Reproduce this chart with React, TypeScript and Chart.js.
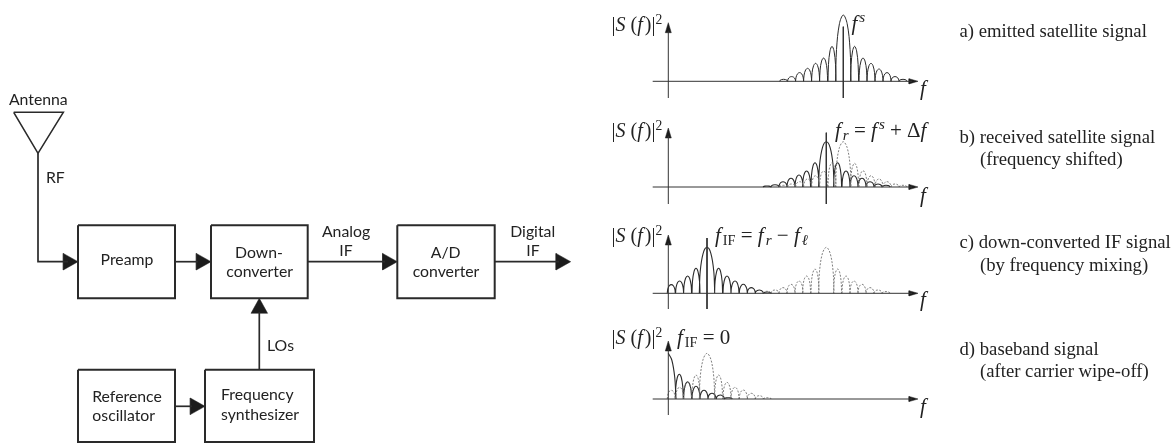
import React, { useEffect, useRef } from "react";
import { Chart, registerables } from "chart.js";
Chart.register(...registerables);

// ---- spectrum data: lobe centre frequency (from the power axis) and lobe power ----
const aSideF = [115.3, 123.3, 131.3, 139.3, 147.3, 155.3, 163.7, 186.3, 194.7, 202.7, 210.7, 218.7, 226.7, 234.7];
const aSideP = [2, 4.7, 8.7, 13, 18, 23.3, 35, 35, 23.3, 18, 12.3, 8.7, 4.7, 2];
const aMain = [175, 66.3];

const bSolidF = [98.7, 106.7, 114.7, 122.7, 130.7, 138.3, 146.7, 169.3, 177.7, 185.7, 193.7, 201.7, 209.7, 217.7];
const bSolidP = [1, 2.3, 5.3, 8.7, 12, 16, 24.3, 24.3, 16, 11.3, 8.7, 5.3, 3, 1.7];
const bSolidMain = [158, 45.3];
const bDashF = [115.3, 123.3, 131.3, 139.3, 147.3, 155.3, 163.7, 186.3, 194.7, 202.7, 210.7, 218.7, 226.7, 234.7];
const bDashP = [1.7, 3, 5.3, 8, 11.3, 16, 24.3, 23.7, 16.3, 11.3, 8, 5.3, 3, 1.7];
const bDashMain = [175, 45.3];

const cSolidF = [3, 11.3, 19.3, 27.7, 50.3, 58.7, 66.7, 75, 83, 91, 99];
const cSolidP = [8.7, 12.3, 17.3, 25, 25, 17.3, 12.3, 9, 5.7, 3.3, 1.3];
const cSolidMain = [38.7, 46];
const cDashF = [98.7, 106.7, 114.7, 122.7, 130.7, 138.3, 146.7, 169.3, 177.7, 185.7, 193.7, 201.7, 209.7, 217.7];
const cDashP = [2, 3.3, 5.7, 9, 12.3, 17.3, 24.3, 24.3, 17.3, 12.3, 9, 5.7, 3.3, 1.7];
const cDashMain = [158, 46];

const dSolidF = [11, 19.3, 27.7, 35.7, 43.7, 52, 60];
const dSolidP = [24.7, 17.3, 12.7, 8.7, 5.7, 4, 1.3];
const dSolidHalfMain = [0, 45.7];
const dDashF = [3, 11.3, 19.3, 27.7, 50.3, 58.7, 66.7, 75, 83, 91, 99];
const dDashP = [8.7, 11.7, 16.7, 24, 24, 16.7, 11.7, 9, 5.7, 3.3, 1.3];
const dDashMain = [38.7, 45.7];

// ---- text ----
const blockLabels = ["Antenna", "RF", "Preamp", "Down-", "converter", "Analog", "IF", "A/D", "converter", "Digital", "IF", "LOs", "Reference", "oscillator", "Frequency", "synthesizer"];
const captions = ["a) emitted satellite signal", "b) received satellite signal", "(frequency shifted)", "c) down-converted IF signal", "(by frequency mixing)", "d) baseband signal", "(after carrier wipe-off)"];

// ---- layout (in the 1:1 scale units of the picture) ----
const blockLabelPos = [[38.3, 104.7], [55.3, 183.3], [127, 265], [259, 258.3], [259.7, 276.7], [346, 237.3], [346, 255.7], [445.7, 258.3], [446, 277.3], [532.7, 237.3], [533, 255.7], [280.5, 351], [127, 402], [123.7, 421.3], [257.3, 400.3], [260, 419.7]];
const captionPos = [[959.5, 36.5], [959.5, 142.5], [980, 165], [959.5, 248], [980, 271], [959.5, 354.5], [980, 377]];
const AXIS_X = 668.3;
const panels = [
  { base: 81.3, top: 22.7, bottom: 98, eqY: 30.5, fY: 95 },
  { base: 187, top: 128, bottom: 204, eqY: 136.5, fY: 201.5 },
  { base: 293.3, top: 235, bottom: 309, eqY: 241.5, fY: 306 },
  { base: 399, top: 341, bottom: 415, eqY: 344, fY: 413 },
];
const markers = [[843.3, 26.7, 98], [826.3, 132.7, 204], [707, 238, 309]];
const boxes = [[78, 225.3, 175, 298.3], [211, 225.3, 307.7, 298.3], [397.3, 225.3, 494.7, 298.3], [78, 369.7, 175, 442], [205, 369.7, 314, 442]];
const wires = [
  [[38, 153.3], [38, 261.7], [68, 261.7]],
  [[175, 261.7], [198, 261.7]],
  [[307.7, 261.7], [385, 261.7]],
  [[494.7, 261.7], [559, 261.7]],
  [[259.3, 369.7], [259.3, 312]],
  [[175, 406.3], [192, 406.3]],
];
const antenna = [[13.7, 112.3], [63.3, 112.3], [38, 153.3], [13.7, 112.3]];
// arrow: tip x, tip y, dir
const blockArrows = [[78, 261.7, "r"], [211, 261.7, "r"], [397.3, 261.7, "r"], [570.7, 261.7, "r"], [205, 406.3, "r"], [259.3, 298.3, "u"]];

type Pt = { x: number; y: number } | { x: number; y: null };
const INK = "#2a2a2a";
const DASH = "#6f6f6f";

function arch(cx: number, hw: number, h: number, base: number): Pt[] {
  return [
    { x: cx - hw, y: base },
    { x: cx - hw * 0.88, y: base - h * 0.48 },
    { x: cx - hw * 0.5, y: base - h * 0.87 },
    { x: cx, y: base - h },
    { x: cx + hw * 0.5, y: base - h * 0.87 },
    { x: cx + hw * 0.88, y: base - h * 0.48 },
    { x: cx + hw, y: base },
    { x: cx + hw, y: null },
  ];
}
function trace(f: number[], p: number[], main: number[] | null, base: number): Pt[] {
  const pts: Pt[] = [];
  f.forEach((v, i) => pts.push(...arch(AXIS_X + v, 4, p[i], base)));
  if (main) pts.push(...arch(AXIS_X + main[0], 7.7, main[1], base));
  return pts;
}
function line(data: any[], width = 1, color = INK, extra: any = {}) {
  return { type: "scatter", data, showLine: true, pointRadius: 0, borderWidth: width, borderColor: color, backgroundColor: color, clip: false, fill: false, tension: 0, ...extra };
}
function arrow(x: number, y: number, dir: string, len: number, hw: number) {
  return dir === "r"
    ? [{ x, y }, { x: x - len, y: y - hw }, { x: x - len, y: y + hw }, { x, y }]
    : [{ x, y }, { x: x - hw, y: y + len }, { x: x + hw, y: y + len }, { x, y }];
}
const xy = (a: number[][]) => a.map(([x, y]) => ({ x, y }));

type Seg = [string, string?];
// styles: i italic, sup, sub, isup, isub
const psd: Seg[] = [["|"], ["S", "i"], [" ("], ["f", "i"], [")|"], ["2", "sup"]];
const mathLabels: { x: number; y: number; size?: number; segs: Seg[] }[] = [
  { x: 851.5, y: 30, size: 21, segs: [["f", "i"], ["s", "isup"]] },
  { x: 835, y: 136.5, size: 21, segs: [["f", "i"], ["r", "isub"], [" = "], ["f", "i"], ["s", "isup"], [" + Δ"], ["f", "i"]] },
  { x: 715, y: 241.5, size: 21, segs: [["f", "i"], ["IF", "sub"], [" = "], ["f", "i"], ["r", "isub"], [" − "], ["f", "i"], ["ℓ", "isub"]] },
  { x: 677, y: 344, size: 21, segs: [["f", "i"], ["IF", "sub"], [" = 0"]] },
];

const textPlugin = {
  id: "diagramText",
  afterDatasetsDraw(chart: any) {
    const { ctx, scales } = chart;
    const X = (v: number) => scales.x.getPixelForValue(v);
    const Y = (v: number) => scales.y.getPixelForValue(v);
    ctx.save();
    ctx.fillStyle = "#222";
    ctx.textBaseline = "alphabetic";
    ctx.textAlign = "center";
    ctx.font = "15.8px Lato";
    blockLabels.forEach((t, i) => ctx.fillText(t, X(blockLabelPos[i][0]), Y(blockLabelPos[i][1])));
    ctx.textAlign = "left";
    ctx.font = "18.7px 'Liberation Serif'";
    captions.forEach((t, i) => ctx.fillText(t, X(captionPos[i][0]), Y(captionPos[i][1])));

    const drawSegs = (x0: number, y0: number, segs: Seg[], size = 20) => {
      let x = X(x0);
      const y = Y(y0);
      segs.forEach(([t, s]) => {
        let font = `${size}px 'Liberation Serif'`;
        let dy = 0;
        if (s === "i") font = `italic ${size}px 'Liberation Serif'`;
        if (s === "sup") { font = `${size * 0.68}px 'Liberation Serif'`; dy = -7; }
        if (s === "isup") { font = `italic ${size * 0.72}px 'Liberation Serif'`; dy = -8; }
        if (s === "sub") { font = `${size * 0.68}px 'Liberation Serif'`; dy = 3; }
        if (s === "isub") { font = `italic ${size * 0.72}px 'Liberation Serif'`; dy = 3; }
        ctx.font = font;
        ctx.fillText(t, x, y + dy);
        x += ctx.measureText(t).width + (s === "i" && t === "f" ? 2 : 0);
      });
    };
    panels.forEach((p) => {
      drawSegs(611.5, p.eqY, psd);
      drawSegs(920, p.fY, [["f", "i"]], 21);
    });
    mathLabels.forEach((m) => drawSegs(m.x, m.y, m.segs, m.size));
    ctx.restore();
  },
};

export default function App() {
  const ref = useRef<HTMLCanvasElement>(null);
  useEffect(() => {
    const datasets: any[] = [];
    // block diagram
    boxes.forEach(([a, b, c, d]) => datasets.push(line(xy([[a, b], [c, b], [c, d], [a, d], [a, b]]), 2)));
    wires.forEach((w) => datasets.push(line(xy(w), 1.7)));
    datasets.push(line(xy(antenna), 1.6));
    blockArrows.forEach(([x, y, d]) => {
      const up = d === "u";
      datasets.push(line(arrow(x as number, y as number, d as string, up ? 15 : 14.7, 8.3), 0.5, "#1c1c1c", { fill: "shape" }));
    });
    // spectrum axes
    panels.forEach((p) => {
      datasets.push(line(xy([[652.7, p.base], [912, p.base]]), 1, "#333"));
      datasets.push(line(xy([[AXIS_X, p.bottom], [AXIS_X, p.top + 8]]), 1, "#333"));
      datasets.push(line(arrow(918, p.base, "r", 9, 2.6), 0.5, "#1c1c1c", { fill: "shape" }));
      datasets.push(line(arrow(AXIS_X, p.top, "u", 10, 3), 0.5, "#1c1c1c", { fill: "shape" }));
    });
    markers.forEach(([x, a, b]) => datasets.push(line(xy([[x, a], [x, b]]), 1, "#333")));
    // spectra
    const dashed = { borderDash: [2, 1.5], tension: 0.35 };
    const solid = { tension: 0.35 };
    const b = panels.map((p) => p.base);
    datasets.push(line(trace(aSideF, aSideP, aMain, b[0]), 1, INK, solid));
    datasets.push(line(trace(bDashF, bDashP, bDashMain, b[1]), 0.9, DASH, dashed));
    datasets.push(line(trace(bSolidF, bSolidP, bSolidMain, b[1]), 1.1, INK, solid));
    datasets.push(line(trace(cDashF, cDashP, cDashMain, b[2]), 0.9, DASH, dashed));
    datasets.push(line(trace(cSolidF, cSolidP, cSolidMain, b[2]), 1.1, INK, solid));
    datasets.push(line(trace(dDashF, dDashP, dDashMain, b[3]), 0.9, DASH, dashed));
    datasets.push(line(trace(dSolidF, dSolidP, null, b[3]), 1.1, INK, solid));
    datasets.push(line(xy([
      [AXIS_X + dSolidHalfMain[0], b[3] - dSolidHalfMain[1]],
      [AXIS_X + 3.5, b[3] - 39],
      [AXIS_X + 6.4, b[3] - 22],
      [AXIS_X + 7.7, b[3]],
    ]), 1.1, INK, solid));

    const chart = new Chart(ref.current!, {
      type: "scatter",
      data: { datasets },
      options: {
        responsive: false,
        animation: false,
        devicePixelRatio: 1,
        layout: { padding: 0 },
        plugins: { legend: { display: false }, tooltip: { enabled: false } },
        scales: {
          x: { type: "linear", min: 0, max: 1175, display: false },
          y: { type: "linear", min: 0, max: 443, reverse: true, display: false },
        },
      },
      plugins: [textPlugin],
    } as any);
    return () => chart.destroy();
  }, []);
  return (
    <div style={{ position: "absolute", left: 0, top: 0, width: 1175, height: 443, background: "#fff" }}>
      <canvas ref={ref} width={1175} height={443} style={{ display: "block", filter: "blur(0.35px)" }} />
    </div>
  );
}
